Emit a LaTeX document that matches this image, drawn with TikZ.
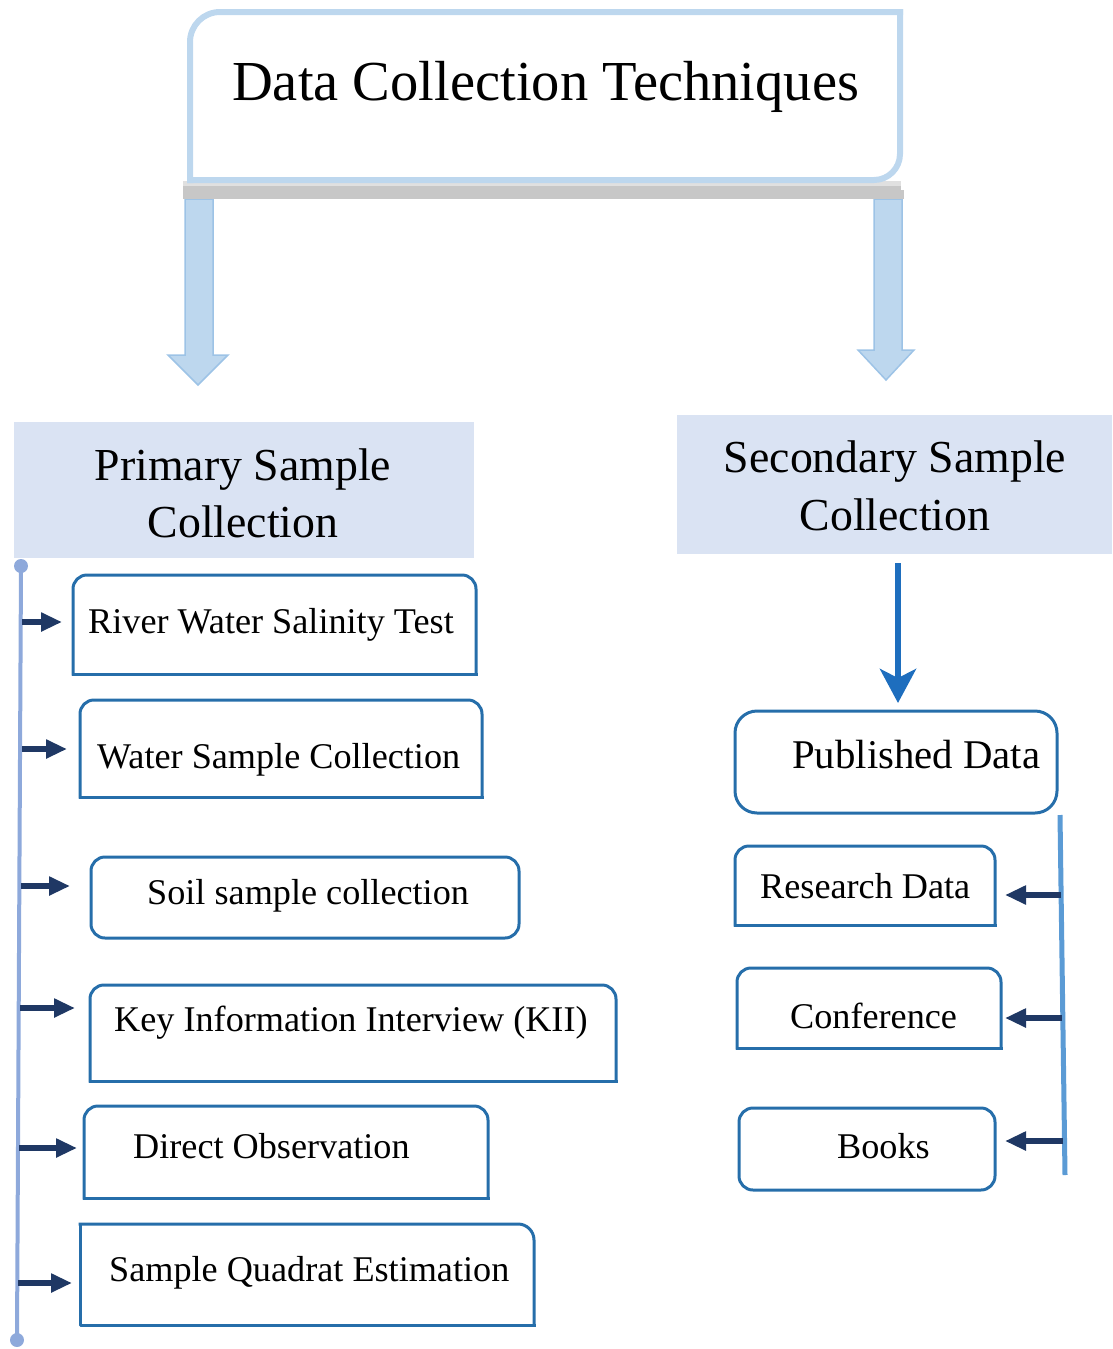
\documentclass[tikz,border=0pt]{standalone}
\usepackage{fontspec}
\setmainfont{Liberation Serif}
\usetikzlibrary{arrows.meta}
\definecolor{bxc}{RGB}{38,110,170}
\definecolor{navy}{RGB}{31,56,100}
\definecolor{lline}{RGB}{142,169,219}
\definecolor{rline}{RGB}{91,155,213}
\definecolor{hdrfill}{RGB}{218,227,243}
\definecolor{bigfill}{RGB}{189,215,238}
\definecolor{bigdraw}{RGB}{157,195,230}
\definecolor{blarr}{RGB}{30,110,190}
\newcommand\topbox[2]{%
  \draw[bxl, rounded corners=#2] (#1.south west) -- (#1.north west) -- (#1.north east) -- (#1.south east);
  \draw[bxl] (#1.south east) -- (#1.south west);}
\newcommand\allbox[2]{%
  \draw[bxl, rounded corners=#2] (#1.south west) rectangle (#1.north east);}
\begin{document}
\begin{tikzpicture}[x=1pt,y=-1pt,
  bnode/.style={rectangle, inner sep=0pt, outer sep=0pt, draw=none},
  bxl/.style={line width=3pt, draw=bxc, line cap=rect, line join=round},
  txt/.style={inner sep=0pt, anchor=base west, font=\fontsize{36.2}{40}\selectfont},
  hdr/.style={inner sep=0pt, anchor=base, font=\fontsize{45.8}{50}\selectfont},
  navyarr/.style={line width=5.5pt, draw=navy, -{Triangle[length=21pt,width=18pt]}},
  bigarr/.style={fill=bigfill, draw=bigdraw, line width=1.5pt, line join=miter},
]
\useasboundingbox (0,0) rectangle (1112,1349);

% ---------- title ----------
\fill[black!22] (183,181) rectangle (901,199);
\fill[black!12] (183,181) rectangle (901,186);
\node[bnode, minimum width=710pt, minimum height=168pt] (title) at (545,96) {};
\draw[line width=6pt, draw=bigfill, line cap=rect, rounded corners=30pt] (title.north east) -- (title.north west) -- (title.south west);
\draw[line width=6pt, draw=bigfill, line cap=rect, rounded corners=26pt] (title.south west) -- (title.south east) -- (title.north east);
\node[inner sep=0pt, anchor=base west, font=\fontsize{56.5}{60}\selectfont] (ttitle) at (232,100) {Data Collection Techniques};

% ---------- headers ----------
\node[bnode, fill=hdrfill, minimum width=460pt, minimum height=136pt] (prim) at (244,490) {};
\node[bnode, fill=hdrfill, minimum width=435pt, minimum height=139pt] (sec) at (894.5,484.5) {};
\node[hdr] (tprim1) at (243,480) {Primary Sample};
\node[hdr] (tprim2) at (243,537) {Collection};
\node[hdr] (tsec1) at (895,472) {Secondary Sample};
\node[hdr] (tsec2) at (895,530) {Collection};

% ---------- big block arrows ----------
\draw[bigarr] (185,199) -- (213,199) -- (213,355) -- (228,355) -- (198,385) -- (168,355) -- (185,355) -- cycle;
\draw[bigarr] (874,199) -- (902,199) -- (902,350) -- (914,350) -- (886,380) -- (858,350) -- (874,350) -- cycle;
\fill[black!22] (183,190) rectangle (215,199);
\fill[black!22] (872,190) rectangle (904,199);

% ---------- left boxes ----------
\node[bnode, minimum width=403pt, minimum height=99pt] (river) at (274.5,624.5) {};
\node[bnode, minimum width=402pt, minimum height=97pt] (water) at (281,748.5) {};
\node[bnode, minimum width=428pt, minimum height=81pt] (soil) at (305,897.5) {};
\node[bnode, minimum width=526pt, minimum height=96pt] (key) at (353,1033) {};
\node[bnode, minimum width=404pt, minimum height=92pt] (direct) at (286,1152) {};
\node[bnode, minimum width=454pt, minimum height=101pt] (quad) at (307,1274.5) {};
\topbox{river}{14pt}
\topbox{water}{14pt}
\allbox{soil}{14pt}
\topbox{key}{14pt}
\topbox{direct}{14pt}
\draw[bxl, rounded corners=16pt] (quad.north west) -- (quad.north east) -- (quad.south east);
\draw[bxl] (quad.south east) -- (quad.south west) -- (quad.north west);
\node[txt] (triver) at (88,633) {River Water Salinity Test};
\node[txt] (twater) at (97,768) {Water Sample Collection};
\node[txt] (tsoil) at (147,904) {Soil sample collection};
\node[txt] (tkey) at (114,1031) {Key Information Interview (KII)};
\node[txt] (tdirect) at (133,1158) {Direct Observation};
\node[txt] (tquad) at (109,1281) {Sample Quadrat Estimation};

% left vertical line
\coordinate (ltop) at (21,566);
\coordinate (lbot) at (17,1340);
\draw[line width=4pt, draw=lline] (ltop) -- (lbot);
\fill[lline] (ltop) circle[radius=7pt];
\fill[lline] (lbot) circle[radius=7pt];
\draw[navyarr, shorten >=11pt] (22,622) -- (river.west |- 0,622);
\draw[navyarr, shorten >=13pt] (22,749) -- (water.west |- 0,749);
\draw[navyarr, shorten >=21pt] (21,886) -- (soil.west |- 0,886);
\draw[navyarr, shorten >=15pt] (20,1008) -- (key.west |- 0,1008);
\draw[navyarr, shorten >=7pt] (19,1148) -- (direct.west |- 0,1148);
\draw[navyarr, shorten >=8pt] (18,1283) -- (quad.west |- 0,1283);

% ---------- right side ----------
\node[bnode, minimum width=322pt, minimum height=102pt] (pub) at (896,762) {};
\node[bnode, minimum width=260pt, minimum height=79pt] (res) at (865,885.5) {};
\node[bnode, minimum width=264pt, minimum height=80pt] (conf) at (869,1008) {};
\node[bnode, minimum width=256pt, minimum height=82pt] (books) at (867,1149) {};
\allbox{pub}{22pt}
\topbox{res}{14pt}
\topbox{conf}{14pt}
\allbox{books}{14pt}
\node[inner sep=0pt, anchor=base west, font=\fontsize{40.8}{45}\selectfont] (tpub) at (792,768) {Published Data};
\node[txt] (tres) at (760,898) {Research Data};
\node[txt] (tconf) at (790,1028) {Conference};
\node[txt] (tbooks) at (837,1158) {Books};

\draw[line width=6pt, draw=blarr, -{Stealth[length=34pt,width=36pt,inset=9pt]}, shorten >=8pt] (898,563) -- (pub.north -| 898,0);

\coordinate (rtop) at (1060,815);
\coordinate (rbot) at (1065,1175);
\draw[line width=5pt, draw=rline] (rtop) -- (rbot);
\draw[navyarr, shorten >=10pt] (1061,895) -- (res.east |- 0,895);
\draw[navyarr, shorten >=4pt] (1062,1018) -- (conf.east |- 0,1018);
\draw[navyarr, shorten >=10pt] (1063,1141) -- (books.east |- 0,1141);
\end{tikzpicture}
\end{document}
